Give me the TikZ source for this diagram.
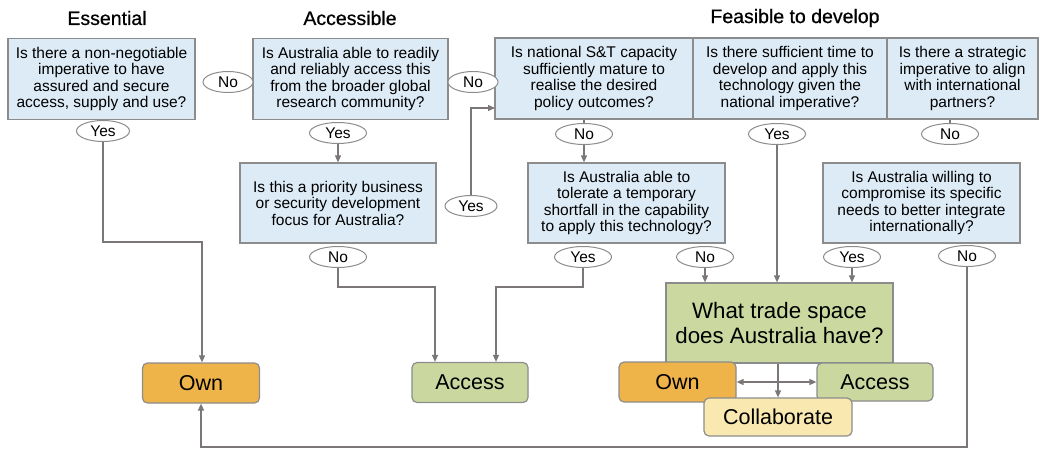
\documentclass[tikz,border=0pt]{standalone}
\usepackage{fontspec}
\setmainfont{Liberation Sans}
\newfontfamily\hdfont[FakeBold=0.7]{Liberation Sans}
\usetikzlibrary{arrows.meta,shapes.geometric}
\definecolor{qblue}{HTML}{DDEBF6}
\definecolor{bord}{HTML}{8C8C8C}
\definecolor{lgray}{HTML}{7B7777}
\definecolor{ownc}{HTML}{EEB449}
\definecolor{accc}{HTML}{CAD8A0}
\definecolor{colc}{HTML}{F9E9B1}
\definecolor{trc}{HTML}{CBD9A0}
\begin{document}
\begin{tikzpicture}[x=1pt,y=-1pt,
  qbox/.style={draw=bord, line width=1.2pt, fill=qblue, align=center, inner sep=0pt,
    minimum width=#1, minimum height=81pt, font=\fontsize{15.5}{16.5}\selectfont},
  lab/.style={ellipse, draw=bord, line width=1pt, fill=white, minimum width=57pt,
    minimum height=21pt, inner sep=0pt, font=\fontsize{15.5}{16}\selectfont},
  outc/.style={draw=bord, line width=1.2pt, rounded corners=5pt, inner sep=0pt,
    minimum height=40pt, minimum width=#1, font=\fontsize{21.5}{22}\selectfont},
  hd/.style={font=\hdfont\fontsize{19.5}{20}\selectfont, inner sep=0pt},
  conn/.style={draw=lgray, line width=1.3pt},
  arr/.style={conn, -{Triangle[length=7pt,width=6pt]}},
  darr/.style={conn, {Triangle[length=7pt,width=6pt]}-{Triangle[length=7pt,width=6pt]}}
]
\useasboundingbox (0,0) rectangle (1043,448);

% headers
\node[hd] (hEss) at (107,18) {Essential};
\node[hd] (hAcc) at (350,18) {Accessible};
\node[hd] (hFea) at (795,18) {Feasible to develop};

% question boxes
\node[qbox=187pt] (q1) at (101.5,79) {Is there a non-negotiable\\imperative to have\\assured and secure\\access, supply and use?};
\node[qbox=195pt] (q2) at (350.5,79) {Is Australia able to readily\\and reliably access this\\from the broader global\\research community?};
\node[qbox=198pt] (q4) at (594,78.5) {Is national S\&T capacity\\sufficiently mature to\\realise the desired\\policy outcomes?};
\node[qbox=194pt] (q5) at (790,78.5) {Is there sufficient time to\\develop and apply this\\technology given the\\national imperative?};
\node[qbox=151pt] (q6) at (962.5,78.5) {Is there a strategic\\imperative to align\\with international\\partners?};
\node[qbox=196pt, minimum height=80pt] (q3) at (338,203) {Is this a priority business\\or security development\\focus for Australia?};
\node[qbox=197pt, minimum height=80pt] (q7) at (626.5,203) {Is Australia able to\\tolerate a temporary\\shortfall in the capability\\to apply this technology?};
\node[qbox=197pt, minimum height=80pt] (q8) at (921.5,203) {Is Australia willing to\\compromise its specific\\needs to better integrate\\internationally?};

% outcome boxes
\node[outc=117pt, fill=ownc] (own1) at (201,383) {Own};
\node[outc=116pt, fill=accc] (acc1) at (470,382.5) {Access};
\node[draw=bord, line width=1.2pt, fill=trc, minimum width=227pt, minimum height=80pt,
  inner sep=0pt, align=center, font=\fontsize{22.3}{25.5}\selectfont] (trade) at (779.5,323) {What trade space\\does Australia have?};
\node[outc=117pt, fill=ownc] (own2) at (677.5,382) {Own};
\node[outc=116pt, minimum height=38pt, fill=accc] (acc2) at (875,382) {Access};
\node[outc=148pt, minimum height=38pt, fill=colc] (col) at (778,417) {Collaborate};

% labels
\node[lab, minimum width=50pt] (no1) at (228,82) {No};
\node[lab, minimum width=50pt] (no2) at (473,82) {No};
\node[lab, minimum width=53pt] (yes1) at (103,131) {Yes};
\node[lab] (yes2) at (338,133) {Yes};
\node[lab, minimum width=52pt] (yesL) at (471,206) {Yes};
\node[lab] (no3) at (338,257) {No};
\node[lab] (no4) at (584,134) {No};
\node[lab] (yes5) at (777,134) {Yes};
\node[lab] (no6) at (950,134) {No};
\node[lab] (yes7) at (583,257) {Yes};
\node[lab] (no7) at (705,257) {No};
\node[lab] (yes8) at (852,257) {Yes};
\node[lab] (no8) at (967,256) {No};

% helper coordinates
\coordinate (k1) at (202,242);
\coordinate (k3) at (435,287);
\coordinate (k7) at (496,287);
\coordinate (q4in) at (495,108);
\coordinate (kb) at (967,447);

% connectors
\draw[conn] (q4.south -| no4) -- (no4.north);
\draw[conn] (q6.south -| no6) -- (no6.north);
\draw[arr] (yes1.south) |- (k1) -- (k1 |- own1.north);
\draw[arr] (yes2.south) -- (q3.north);
\draw[arr] (no3.south) |- (k3) -- (k3 |- acc1.north);
\draw[arr] (yes7.south) |- (k7) -- (k7 |- acc1.north);
\draw[arr] (yesL.north) |- (q4in);
\draw[arr] (no4.south) -- (no4 |- q7.north);
\draw[arr] (no7.south) -- (no7 |- trade.north);
\draw[arr] (yes5.south) -- (yes5 |- trade.north);
\draw[arr] (yes8.south) -- (yes8 |- trade.north);
\draw[arr] (no8.south) -- (kb) -| (own1.south);
\draw[arr] (trade.south -| col.north) -- (col.north);
\draw[darr] (own2.east) -- (acc2.west);
\end{tikzpicture}
\end{document}
